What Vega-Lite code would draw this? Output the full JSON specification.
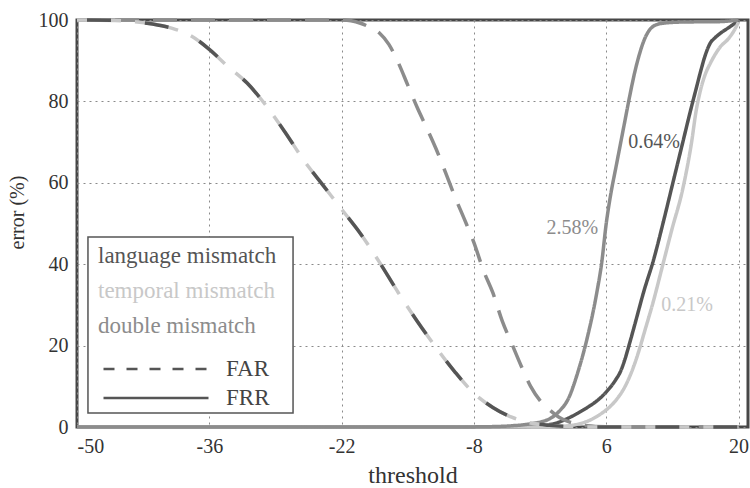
{
  "$schema": "https://vega.github.io/schema/vega-lite/v6.json",
  "width": 671,
  "height": 407,
  "autosize": {"type": "none"},
  "padding": {"left": 77, "top": 20, "right": 2, "bottom": 61},
  "background": "white",
  "config": {
    "view": {"stroke": "#474747", "strokeWidth": 3},
    "font": "Liberation Serif",
    "axis": {
      "labelFont": "Liberation Serif",
      "labelFontSize": 20,
      "labelColor": "#333333",
      "titleFont": "Liberation Serif",
      "titleFontWeight": "normal",
      "titleColor": "#333333",
      "ticks": false,
      "domain": false,
      "grid": true,
      "gridColor": "#8a8a8a",
      "gridDash": [2, 4],
      "gridWidth": 1,
      "labelExpr": "'' + datum.value"
    }
  },
  "data": {
    "values": [
      {"series": "language mismatch", "type": "FAR", "t": -50, "err": 100},
      {"series": "language mismatch", "type": "FAR", "t": -46, "err": 99.9},
      {"series": "language mismatch", "type": "FAR", "t": -44, "err": 99.6},
      {"series": "language mismatch", "type": "FAR", "t": -42, "err": 99.0},
      {"series": "language mismatch", "type": "FAR", "t": -40, "err": 98.0},
      {"series": "language mismatch", "type": "FAR", "t": -38, "err": 96.2},
      {"series": "language mismatch", "type": "FAR", "t": -36, "err": 92.8},
      {"series": "language mismatch", "type": "FAR", "t": -34, "err": 88.5},
      {"series": "language mismatch", "type": "FAR", "t": -32, "err": 84.5},
      {"series": "language mismatch", "type": "FAR", "t": -30, "err": 79.0},
      {"series": "language mismatch", "type": "FAR", "t": -28, "err": 72.5},
      {"series": "language mismatch", "type": "FAR", "t": -26, "err": 65.5},
      {"series": "language mismatch", "type": "FAR", "t": -24, "err": 59.5},
      {"series": "language mismatch", "type": "FAR", "t": -22, "err": 53.5},
      {"series": "language mismatch", "type": "FAR", "t": -20, "err": 47.5},
      {"series": "language mismatch", "type": "FAR", "t": -18, "err": 40.5},
      {"series": "language mismatch", "type": "FAR", "t": -16, "err": 33.0},
      {"series": "language mismatch", "type": "FAR", "t": -14, "err": 26.0},
      {"series": "language mismatch", "type": "FAR", "t": -12, "err": 19.5},
      {"series": "language mismatch", "type": "FAR", "t": -10, "err": 13.5},
      {"series": "language mismatch", "type": "FAR", "t": -8, "err": 8.3},
      {"series": "language mismatch", "type": "FAR", "t": -6, "err": 4.8},
      {"series": "language mismatch", "type": "FAR", "t": -4, "err": 2.4},
      {"series": "language mismatch", "type": "FAR", "t": -2, "err": 1.0},
      {"series": "language mismatch", "type": "FAR", "t": 0, "err": 0.4},
      {"series": "language mismatch", "type": "FAR", "t": 2, "err": 0.1},
      {"series": "language mismatch", "type": "FAR", "t": 4, "err": 0},
      {"series": "language mismatch", "type": "FAR", "t": 20, "err": 0},

      {"series": "temporal mismatch", "type": "FAR", "t": -50, "err": 100},
      {"series": "temporal mismatch", "type": "FAR", "t": -46, "err": 99.9},
      {"series": "temporal mismatch", "type": "FAR", "t": -44, "err": 99.6},
      {"series": "temporal mismatch", "type": "FAR", "t": -42, "err": 99.0},
      {"series": "temporal mismatch", "type": "FAR", "t": -40, "err": 98.0},
      {"series": "temporal mismatch", "type": "FAR", "t": -38, "err": 96.2},
      {"series": "temporal mismatch", "type": "FAR", "t": -36, "err": 92.8},
      {"series": "temporal mismatch", "type": "FAR", "t": -34, "err": 88.5},
      {"series": "temporal mismatch", "type": "FAR", "t": -32, "err": 84.5},
      {"series": "temporal mismatch", "type": "FAR", "t": -30, "err": 79.0},
      {"series": "temporal mismatch", "type": "FAR", "t": -28, "err": 72.5},
      {"series": "temporal mismatch", "type": "FAR", "t": -26, "err": 65.5},
      {"series": "temporal mismatch", "type": "FAR", "t": -24, "err": 59.5},
      {"series": "temporal mismatch", "type": "FAR", "t": -22, "err": 53.5},
      {"series": "temporal mismatch", "type": "FAR", "t": -20, "err": 47.5},
      {"series": "temporal mismatch", "type": "FAR", "t": -18, "err": 40.5},
      {"series": "temporal mismatch", "type": "FAR", "t": -16, "err": 33.0},
      {"series": "temporal mismatch", "type": "FAR", "t": -14, "err": 26.0},
      {"series": "temporal mismatch", "type": "FAR", "t": -12, "err": 19.5},
      {"series": "temporal mismatch", "type": "FAR", "t": -10, "err": 13.5},
      {"series": "temporal mismatch", "type": "FAR", "t": -8, "err": 8.3},
      {"series": "temporal mismatch", "type": "FAR", "t": -6, "err": 4.8},
      {"series": "temporal mismatch", "type": "FAR", "t": -4, "err": 2.4},
      {"series": "temporal mismatch", "type": "FAR", "t": -2, "err": 1.0},
      {"series": "temporal mismatch", "type": "FAR", "t": 0, "err": 0.4},
      {"series": "temporal mismatch", "type": "FAR", "t": 2, "err": 0.1},
      {"series": "temporal mismatch", "type": "FAR", "t": 4, "err": 0},
      {"series": "temporal mismatch", "type": "FAR", "t": 20, "err": 0},

      {"series": "double mismatch", "type": "FAR", "t": -50, "err": 100},
      {"series": "double mismatch", "type": "FAR", "t": -22, "err": 100},
      {"series": "double mismatch", "type": "FAR", "t": -21, "err": 99.8},
      {"series": "double mismatch", "type": "FAR", "t": -20, "err": 99.2},
      {"series": "double mismatch", "type": "FAR", "t": -19, "err": 98.2},
      {"series": "double mismatch", "type": "FAR", "t": -18, "err": 96.8},
      {"series": "double mismatch", "type": "FAR", "t": -17, "err": 94.0},
      {"series": "double mismatch", "type": "FAR", "t": -16, "err": 89.5},
      {"series": "double mismatch", "type": "FAR", "t": -15, "err": 84.0},
      {"series": "double mismatch", "type": "FAR", "t": -14, "err": 78.5},
      {"series": "double mismatch", "type": "FAR", "t": -13, "err": 73.5},
      {"series": "double mismatch", "type": "FAR", "t": -12, "err": 68.3},
      {"series": "double mismatch", "type": "FAR", "t": -11, "err": 62.5},
      {"series": "double mismatch", "type": "FAR", "t": -10, "err": 56.5},
      {"series": "double mismatch", "type": "FAR", "t": -9, "err": 51.0},
      {"series": "double mismatch", "type": "FAR", "t": -8, "err": 45.3},
      {"series": "double mismatch", "type": "FAR", "t": -7, "err": 38.5},
      {"series": "double mismatch", "type": "FAR", "t": -6, "err": 33.0},
      {"series": "double mismatch", "type": "FAR", "t": -5, "err": 26.0},
      {"series": "double mismatch", "type": "FAR", "t": -4, "err": 20.5},
      {"series": "double mismatch", "type": "FAR", "t": -3, "err": 15.0},
      {"series": "double mismatch", "type": "FAR", "t": -2, "err": 10.0},
      {"series": "double mismatch", "type": "FAR", "t": -1, "err": 6.5},
      {"series": "double mismatch", "type": "FAR", "t": 0, "err": 4.2},
      {"series": "double mismatch", "type": "FAR", "t": 1, "err": 2.4},
      {"series": "double mismatch", "type": "FAR", "t": 2, "err": 1.3},
      {"series": "double mismatch", "type": "FAR", "t": 3, "err": 0.7},
      {"series": "double mismatch", "type": "FAR", "t": 4, "err": 0.3},
      {"series": "double mismatch", "type": "FAR", "t": 6, "err": 0.05},
      {"series": "double mismatch", "type": "FAR", "t": 8, "err": 0},
      {"series": "double mismatch", "type": "FAR", "t": 20, "err": 0},

      {"series": "language mismatch", "type": "FRR", "t": -50, "err": 0},
      {"series": "language mismatch", "type": "FRR", "t": -4, "err": 0},
      {"series": "language mismatch", "type": "FRR", "t": -2, "err": 0.15},
      {"series": "language mismatch", "type": "FRR", "t": 0, "err": 0.6},
      {"series": "language mismatch", "type": "FRR", "t": 1, "err": 1.2},
      {"series": "language mismatch", "type": "FRR", "t": 2, "err": 2.2},
      {"series": "language mismatch", "type": "FRR", "t": 3, "err": 3.4},
      {"series": "language mismatch", "type": "FRR", "t": 4, "err": 4.8},
      {"series": "language mismatch", "type": "FRR", "t": 5, "err": 6.4},
      {"series": "language mismatch", "type": "FRR", "t": 6, "err": 8.6},
      {"series": "language mismatch", "type": "FRR", "t": 7, "err": 11.6},
      {"series": "language mismatch", "type": "FRR", "t": 7.5, "err": 13.6},
      {"series": "language mismatch", "type": "FRR", "t": 8, "err": 16.8},
      {"series": "language mismatch", "type": "FRR", "t": 8.5, "err": 20.8},
      {"series": "language mismatch", "type": "FRR", "t": 9, "err": 25.0},
      {"series": "language mismatch", "type": "FRR", "t": 10, "err": 33.5},
      {"series": "language mismatch", "type": "FRR", "t": 11, "err": 41.0},
      {"series": "language mismatch", "type": "FRR", "t": 12, "err": 50.0},
      {"series": "language mismatch", "type": "FRR", "t": 13, "err": 59.5},
      {"series": "language mismatch", "type": "FRR", "t": 14, "err": 69.0},
      {"series": "language mismatch", "type": "FRR", "t": 15, "err": 78.5},
      {"series": "language mismatch", "type": "FRR", "t": 15.5, "err": 83.0},
      {"series": "language mismatch", "type": "FRR", "t": 16, "err": 87.5},
      {"series": "language mismatch", "type": "FRR", "t": 16.5, "err": 91.5},
      {"series": "language mismatch", "type": "FRR", "t": 17, "err": 94.3},
      {"series": "language mismatch", "type": "FRR", "t": 17.5, "err": 95.6},
      {"series": "language mismatch", "type": "FRR", "t": 18, "err": 96.6},
      {"series": "language mismatch", "type": "FRR", "t": 19, "err": 98.2},
      {"series": "language mismatch", "type": "FRR", "t": 20, "err": 99.8},

      {"series": "temporal mismatch", "type": "FRR", "t": -50, "err": 0},
      {"series": "temporal mismatch", "type": "FRR", "t": 0, "err": 0},
      {"series": "temporal mismatch", "type": "FRR", "t": 2, "err": 0.3},
      {"series": "temporal mismatch", "type": "FRR", "t": 3, "err": 0.7},
      {"series": "temporal mismatch", "type": "FRR", "t": 4, "err": 1.4},
      {"series": "temporal mismatch", "type": "FRR", "t": 5, "err": 2.6},
      {"series": "temporal mismatch", "type": "FRR", "t": 6, "err": 4.2},
      {"series": "temporal mismatch", "type": "FRR", "t": 7, "err": 6.5},
      {"series": "temporal mismatch", "type": "FRR", "t": 8, "err": 10.0},
      {"series": "temporal mismatch", "type": "FRR", "t": 9, "err": 15.5},
      {"series": "temporal mismatch", "type": "FRR", "t": 9.6, "err": 19.8},
      {"series": "temporal mismatch", "type": "FRR", "t": 10, "err": 23.0},
      {"series": "temporal mismatch", "type": "FRR", "t": 11, "err": 31.0},
      {"series": "temporal mismatch", "type": "FRR", "t": 12, "err": 40.0},
      {"series": "temporal mismatch", "type": "FRR", "t": 13, "err": 49.0},
      {"series": "temporal mismatch", "type": "FRR", "t": 14, "err": 57.5},
      {"series": "temporal mismatch", "type": "FRR", "t": 14.5, "err": 63.0},
      {"series": "temporal mismatch", "type": "FRR", "t": 15, "err": 69.5},
      {"series": "temporal mismatch", "type": "FRR", "t": 15.5, "err": 77.5},
      {"series": "temporal mismatch", "type": "FRR", "t": 16, "err": 83.0},
      {"series": "temporal mismatch", "type": "FRR", "t": 16.5, "err": 86.8},
      {"series": "temporal mismatch", "type": "FRR", "t": 17, "err": 89.3},
      {"series": "temporal mismatch", "type": "FRR", "t": 18, "err": 93.2},
      {"series": "temporal mismatch", "type": "FRR", "t": 19, "err": 95.6},
      {"series": "temporal mismatch", "type": "FRR", "t": 19.5, "err": 97.3},
      {"series": "temporal mismatch", "type": "FRR", "t": 20, "err": 99.5},

      {"series": "double mismatch", "type": "FRR", "t": -50, "err": 0},
      {"series": "double mismatch", "type": "FRR", "t": -10, "err": 0},
      {"series": "double mismatch", "type": "FRR", "t": -6, "err": 0.1},
      {"series": "double mismatch", "type": "FRR", "t": -4, "err": 0.3},
      {"series": "double mismatch", "type": "FRR", "t": -2, "err": 0.8},
      {"series": "double mismatch", "type": "FRR", "t": 0, "err": 2.0},
      {"series": "double mismatch", "type": "FRR", "t": 1, "err": 3.8},
      {"series": "double mismatch", "type": "FRR", "t": 2, "err": 7.0},
      {"series": "double mismatch", "type": "FRR", "t": 3, "err": 13.5},
      {"series": "double mismatch", "type": "FRR", "t": 4, "err": 22.0},
      {"series": "double mismatch", "type": "FRR", "t": 5, "err": 33.0},
      {"series": "double mismatch", "type": "FRR", "t": 5.5, "err": 40.0},
      {"series": "double mismatch", "type": "FRR", "t": 6, "err": 50.0},
      {"series": "double mismatch", "type": "FRR", "t": 6.5, "err": 57.5},
      {"series": "double mismatch", "type": "FRR", "t": 7, "err": 63.5},
      {"series": "double mismatch", "type": "FRR", "t": 7.5, "err": 69.5},
      {"series": "double mismatch", "type": "FRR", "t": 8, "err": 75.5},
      {"series": "double mismatch", "type": "FRR", "t": 8.5, "err": 81.5},
      {"series": "double mismatch", "type": "FRR", "t": 9, "err": 87.0},
      {"series": "double mismatch", "type": "FRR", "t": 9.5, "err": 91.5},
      {"series": "double mismatch", "type": "FRR", "t": 10, "err": 95.0},
      {"series": "double mismatch", "type": "FRR", "t": 10.5, "err": 97.3},
      {"series": "double mismatch", "type": "FRR", "t": 11, "err": 98.5},
      {"series": "double mismatch", "type": "FRR", "t": 12, "err": 99.2},
      {"series": "double mismatch", "type": "FRR", "t": 14, "err": 99.5},
      {"series": "double mismatch", "type": "FRR", "t": 18, "err": 99.6},
      {"series": "double mismatch", "type": "FRR", "t": 20, "err": 100}
    ]
  },
  "layer": [
    {
      "transform": [{"filter": "datum.type === 'FRR'"}],
      "mark": {"type": "line", "interpolate": "monotone", "strokeWidth": 3.5, "strokeCap": "butt"},
      "encoding": {
        "x": {
          "field": "t", "type": "quantitative",
          "scale": {"domain": [-50, 21], "nice": false, "zero": false},
          "axis": {"values": [-50, -36, -22, -8, 6, 20], "title": "threshold", "titleFontSize": 24, "labelPadding": 9, "titlePadding": 7}
        },
        "y": {
          "field": "err", "type": "quantitative",
          "scale": {"domain": [0, 100], "nice": false},
          "axis": {"values": [0, 20, 40, 60, 80, 100], "title": "error (%)", "titleFontSize": 20, "titleY": 192, "labelPadding": 9, "titlePadding": 11}
        },
        "color": {
          "field": "series", "type": "nominal",
          "scale": {"domain": ["language mismatch", "temporal mismatch", "double mismatch"], "range": ["#555555", "#c8c8c8", "#8c8c8c"]},
          "legend": {
            "orient": "none", "legendX": 21, "legendY": 224, "title": null,
            "symbolOpacity": 0, "symbolSize": 0, "symbolStrokeWidth": 0,
            "labelFont": "Liberation Serif", "labelFontSize": 23, "labelOffset": -23, "labelLimit": 400,
            "rowPadding": 11, "padding": 0,
            "encode": {"labels": {"update": {"fill": {"scale": "color", "field": "value"}}}}
          }
        },
        "strokeDash": {
          "field": "type", "type": "nominal",
          "scale": {"domain": ["FAR", "FRR"], "range": [[11, 12], [1, 0]]},
          "legend": {
            "orient": "none", "legendX": 25, "legendY": 336, "title": null,
            "symbolType": "stroke", "symbolSize": 11025, "symbolStrokeColor": "#555555", "symbolStrokeWidth": 2.5,
            "clipHeight": 26,
            "labelFont": "Liberation Serif", "labelFontSize": 23, "labelColor": "#444444", "labelOffset": 16, "labelLimit": 200,
            "rowPadding": 3, "padding": 0
          }
        }
      }
    },
    {
      "transform": [{"filter": "datum.type === 'FAR' && datum.series === 'double mismatch'"}],
      "mark": {"type": "line", "interpolate": "monotone", "strokeWidth": 3.5, "strokeCap": "butt", "strokeDash": [24, 14], "color": "#8c8c8c"},
      "encoding": {"x": {"field": "t", "type": "quantitative"}, "y": {"field": "err", "type": "quantitative"}}
    },
    {
      "transform": [{"filter": "datum.type === 'FAR' && datum.series === 'temporal mismatch'"}],
      "mark": {"type": "line", "interpolate": "monotone", "strokeWidth": 3.5, "strokeCap": "butt", "strokeDash": [44, 14], "color": "#c8c8c8"},
      "encoding": {"x": {"field": "t", "type": "quantitative"}, "y": {"field": "err", "type": "quantitative"}}
    },
    {
      "transform": [{"filter": "datum.type === 'FAR' && datum.series === 'language mismatch'"}],
      "mark": {"type": "line", "interpolate": "monotone", "strokeWidth": 3.5, "strokeCap": "butt", "strokeDash": [24, 34], "strokeDashOffset": 48, "color": "#555555"},
      "encoding": {"x": {"field": "t", "type": "quantitative"}, "y": {"field": "err", "type": "quantitative"}}
    },
    {
      "data": {"values": [{"box": "legend"}]},
      "mark": {"type": "rect", "fill": "#ffffff", "fillOpacity": 1, "stroke": "#555555", "strokeWidth": 1.5},
      "encoding": {
        "x": {"datum": -48.84},
        "x2": {"datum": -27.14},
        "y": {"datum": 46.68},
        "y2": {"datum": 3.44}
      }
    },
    {
      "data": {"values": [
        {"label": "0.64%", "series": "language mismatch", "t": 11.06, "err": 70.0},
        {"label": "2.58%", "series": "double mismatch", "t": 2.4, "err": 48.9},
        {"label": "0.21%", "series": "temporal mismatch", "t": 14.55, "err": 30.0}
      ]},
      "mark": {"type": "text", "font": "Liberation Serif", "fontSize": 20},
      "encoding": {
        "x": {"field": "t", "type": "quantitative"},
        "y": {"field": "err", "type": "quantitative"},
        "text": {"field": "label"},
        "color": {
          "condition": [
            {"test": "datum.series === 'double mismatch'", "value": "#8c8c8c"},
            {"test": "datum.series === 'temporal mismatch'", "value": "#c8c8c8"}
          ],
          "value": "#555555"
        }
      }
    }
  ]
}
